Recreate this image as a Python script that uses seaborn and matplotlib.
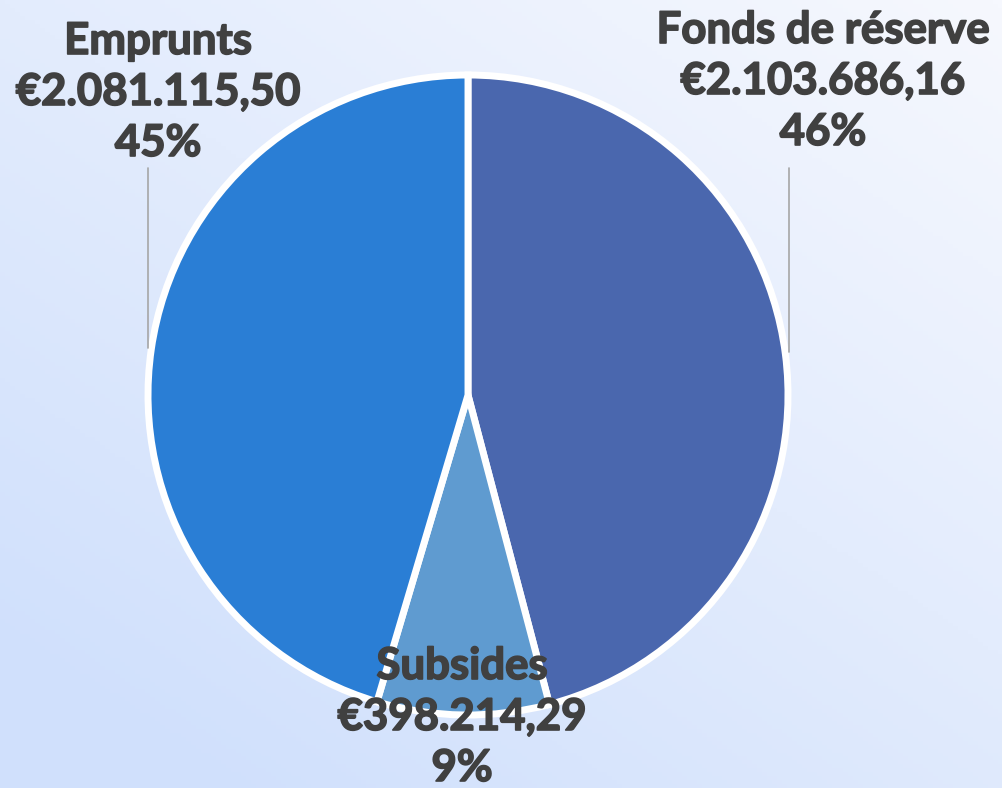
import numpy as np
import matplotlib.pyplot as plt
import matplotlib.colors as mcolors
import matplotlib.patheffects as pe
import seaborn as sns

sns.set_theme(style='white')
plt.rcParams['font.family'] = ['Lato', 'DejaVu Sans']

# data
categories = ['Fonds de réserve', 'Subsides', 'Emprunts']
amounts = [2103686.16, 398214.29, 2081115.50]
amount_labels = ['€2.103.686,16', '€398.214,29', '€2.081.115,50']
pct_labels = ['46%', '9%', '45%']
colors = ['#4A67AE', '#5F9BD0', '#2A7ED5']

# label anchors (pixel coords, y up) and leader lines
label_xy = [(823, 707), (462, 71), (158, 696)]
leaders = [((789, 620), (789, 436)), None, ((148, 620), (148, 440))]

fig = plt.figure(figsize=(10.03, 7.88), dpi=100)
ax = fig.add_axes([0, 0, 1, 1])

# diagonal background gradient: light top-right, bluer bottom-left
yy, xx = np.mgrid[0:1:200j, 0:1:200j]
t = np.clip((1 - xx) * 0.5 + yy * 0.6, 0, 1)
cmap = mcolors.LinearSegmentedColormap.from_list('bg', ['#F6F8FE', '#D0E0FC'])
ax.imshow(t, cmap=cmap, extent=[0, 1003, 0, 788], origin='upper', zorder=0,
          aspect='auto', vmin=0, vmax=1)

ax.pie(amounts, colors=colors, startangle=90, counterclock=False,
       center=(468, 393), radius=320, frame=True,
       wedgeprops=dict(edgecolor='white', linewidth=5))
ax.set_xlim(0, 1003)
ax.set_ylim(0, 788)
ax.set_aspect('equal')
ax.axis('off')

thick = [pe.withStroke(linewidth=1.2, foreground='#404040')]
for i, cat in enumerate(categories):
    x, y = label_xy[i]
    for k, line in enumerate([cat, amount_labels[i], pct_labels[i]]):
        ax.text(x, y + (1 - k) * 51, line, ha='center', va='center',
                fontsize=31.5, fontweight='bold', color='#404040', zorder=5,
                path_effects=thick)
    if leaders[i] is not None:
        (x0, y0), (x1, y1) = leaders[i]
        ax.plot([x0, x1], [y0, y1], color='#A6A6A6', lw=1.2, zorder=1)

fig.savefig('out.png', dpi=100)
